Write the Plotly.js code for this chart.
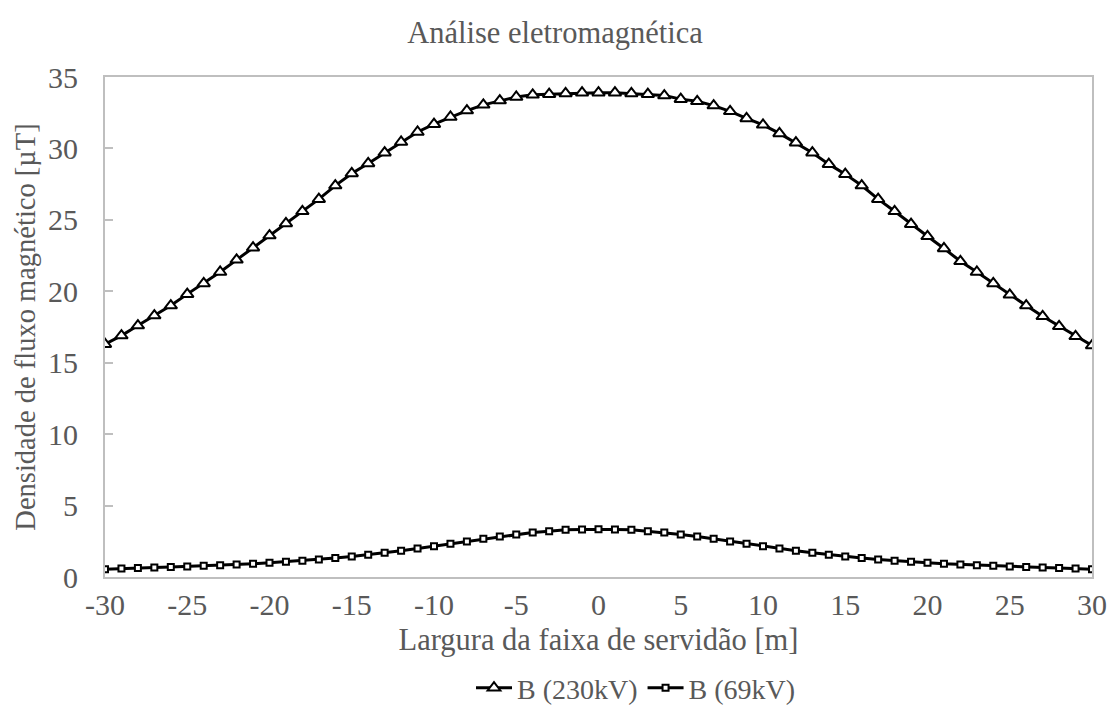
<!DOCTYPE html>
<html>
<head>
<meta charset="utf-8">
<script src="https://cdn.plot.ly/plotly-3.0.1.min.js"></script>
<style>
  html, body { margin: 0; padding: 0; background: #fff; }
  #chart { width: 1110px; height: 709px; }
</style>
</head>
<body>
<div id="chart"></div>
<script>
// Distance from the centre of the right-of-way, in metres
const distance = [
  -30, -29, -28, -27, -26, -25, -24, -23, -22, -21,
  -20, -19, -18, -17, -16, -15, -14, -13, -12, -11,
  -10, -9, -8, -7, -6, -5, -4, -3, -2, -1,
  0,
  1, 2, 3, 4, 5, 6, 7, 8, 9, 10,
  11, 12, 13, 14, 15, 16, 17, 18, 19, 20,
  21, 22, 23, 24, 25, 26, 27, 28, 29, 30
];

// Magnetic flux density under the 230 kV line [µT]
const b230kV = [
  16.3, 16.9, 17.6, 18.3, 19.0, 19.8, 20.55, 21.35, 22.2, 23.05,
  23.9, 24.75, 25.6, 26.45, 27.4, 28.25, 28.95, 29.7, 30.45, 31.15,
  31.7, 32.2, 32.65, 33.05, 33.35, 33.6, 33.75, 33.8, 33.85, 33.9,
  33.9,
  33.9, 33.85, 33.8, 33.7, 33.45, 33.3, 33.0, 32.6, 32.1, 31.65,
  31.05, 30.4, 29.7, 28.9, 28.2, 27.4, 26.45, 25.6, 24.7, 23.85,
  23.0, 22.1, 21.35, 20.55, 19.75, 19.0, 18.25, 17.55, 16.85, 16.2
];

// Magnetic flux density under the 69 kV line [µT]
const b69kV = [
  0.54, 0.6, 0.63, 0.67, 0.7, 0.74, 0.79, 0.82, 0.88, 0.93,
  1.0, 1.07, 1.14, 1.23, 1.33, 1.44, 1.56, 1.7, 1.84, 2.0,
  2.16, 2.33, 2.49, 2.67, 2.84, 2.98, 3.12, 3.21, 3.3, 3.33,
  3.35,
  3.33, 3.3, 3.21, 3.12, 2.98, 2.84, 2.67, 2.49, 2.33, 2.16,
  2.0, 1.84, 1.7, 1.56, 1.44, 1.33, 1.23, 1.14, 1.07, 1.0,
  0.93, 0.88, 0.82, 0.79, 0.74, 0.7, 0.67, 0.63, 0.6, 0.54
];

const xTicks = [-30, -25, -20, -15, -10, -5, 0, 5, 10, 15, 20, 25, 30];
const yTicks = [0, 5, 10, 15, 20, 25, 30, 35];

const seriesNames = ['B (230kV)', 'B (69kV)'];

const FONT = 'Liberation Serif';
const TEXT = '#595959';
const FRAME = '#bfbfbf';

const traces = [
  {
    x: distance, y: b230kV, name: seriesNames[0],
    type: 'scatter', mode: 'lines+markers',
    line: { color: '#000', width: 3 },
    marker: { symbol: 'triangle-up', size: 11, color: '#fff',
              line: { color: '#000', width: 2 } }
  },
  {
    x: distance, y: b69kV, name: seriesNames[1],
    type: 'scatter', mode: 'lines+markers',
    line: { color: '#000', width: 3 },
    marker: { symbol: 'square', size: 6, color: '#fff',
              line: { color: '#000', width: 2 } }
  }
];

const layout = {
  width: 1110, height: 709,
  paper_bgcolor: '#fff', plot_bgcolor: '#fff',
  font: { family: FONT, color: TEXT, size: 29 },
  margin: { l: 105, r: 18, t: 77, b: 132 },
  title: {
    text: 'Análise eletromagnética',
    font: { family: FONT, color: TEXT, size: 30.5 },
    x: 0.5, xanchor: 'center',
    yref: 'container', y: 1 - 32 / 709, yanchor: 'middle'
  },
  xaxis: {
    range: [-30, 30],
    tickmode: 'array', tickvals: xTicks, ticktext: xTicks.map(String),
    ticks: '', showgrid: false, zeroline: false,
    showline: true, linecolor: FRAME, linewidth: 2, mirror: true,
    tickfont: { family: FONT, color: TEXT, size: 30 },
    title: { text: 'Largura da faixa de servidão [m]', standoff: 9,
             font: { family: FONT, color: TEXT, size: 30.5 } }
  },
  yaxis: {
    range: [0, 35],
    tickmode: 'array', tickvals: yTicks, ticktext: yTicks.map(String),
    ticks: 'inside', ticklen: 8, tickwidth: 2, tickcolor: FRAME,
    ticklabelstandoff: 19,
    showgrid: false, zeroline: false,
    showline: true, linecolor: FRAME, linewidth: 2, mirror: true,
    tickfont: { family: FONT, color: TEXT, size: 30 },
    title: { text: 'Densidade de fluxo magnético [µT]', standoff: 4,
             font: { family: FONT, color: TEXT, size: 28.5 } }
  },
  showlegend: true,
  legend: {
    orientation: 'h', x: 0.538, xanchor: 'center',
    yref: 'container', y: 1 - 688 / 709, yanchor: 'middle',
    font: { family: FONT, color: TEXT, size: 28 },
    itemwidth: 36, tracegroupgap: 0
  }
};

Plotly.newPlot('chart', traces, layout, { displayModeBar: false, staticPlot: true });
</script>
</body>
</html>
